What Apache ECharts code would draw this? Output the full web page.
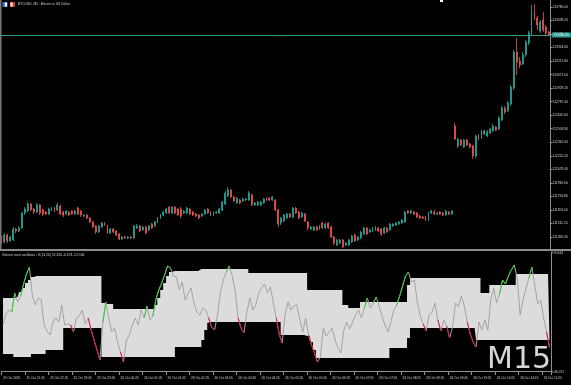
<!DOCTYPE html>
<html><head><meta charset="utf-8">
<script src="https://cdn.jsdelivr.net/npm/echarts@6/dist/echarts.min.js"></script>
<style>html,body{margin:0;padding:0;background:#000;}#c{width:571px;height:385px;}</style>
</head><body><div id="c"></div>
<script>
const timeLabels = ['25 Oct 2025','25 Oct 21:45','25 Oct 22:25','25 Oct 23:05','25 Oct 23:45','26 Oct 00:25','26 Oct 01:05','26 Oct 01:45','26 Oct 02:25','26 Oct 03:05','26 Oct 03:45','26 Oct 04:25','26 Oct 05:05','26 Oct 05:45','26 Oct 06:25','26 Oct 07:05','26 Oct 07:45','26 Oct 08:25','26 Oct 09:05','26 Oct 09:45','26 Oct 13:25','26 Oct 14:05','26 Oct 14:45','26 Oct 15:25'];
const priceTicks = [111369.40,111511.20,111653.00,111794.80,111936.60,112078.40,112220.20,112362.00,112503.80,112645.60,112787.40,112929.20,113071.00,113212.80,113354.60,113496.40,113638.20,113780.00];
const oscTicks = [-46.071, 74.664];
// [open, close, low, high]
const candles = [
[111359,111317,111296,111380],[111317,111390,111306,111411],[111390,111327,111306,111401],[111327,111369,111317,111380],[111338,111453,111327,111474],
[111453,111432,111411,111464],[111432,111464,111422,111485],[111464,111621,111453,111631],[111621,111663,111600,111684],[111642,111715,111631,111736],
[111715,111652,111642,111726],[111663,111631,111610,111673],[111631,111705,111621,111726],[111705,111621,111600,111715],[111652,111610,111589,111663],
[111631,111610,111600,111642],[111610,111663,111600,111673],[111652,111673,111642,111684],[111673,111642,111631,111684],[111652,111705,111642,111726],
[111694,111610,111600,111705],[111631,111600,111579,111642],[111610,111642,111600,111652],[111631,111600,111589,111642],[111642,111610,111600,111652],
[111610,111642,111600,111652],[111673,111610,111600,111684],[111642,111600,111579,111652],[111589,111600,111579,111610],[111600,111568,111558,111610],
[111568,111527,111516,111579],[111527,111474,111464,111537],[111485,111422,111401,111495],[111422,111485,111411,111495],[111474,111516,111464,111527],
[111516,111495,111485,111527],[111485,111411,111401,111495],[111411,111453,111401,111464],[111453,111422,111411,111464],[111432,111390,111380,111443],
[111401,111348,111338,111411],[111348,111369,111338,111380],[111369,111359,111348,111380],[111359,111369,111348,111380],[111369,111359,111348,111380],
[111359,111485,111348,111495],[111464,111485,111453,111506],[111485,111432,111422,111495],[111443,111474,111432,111485],[111474,111411,111401,111485],
[111443,111485,111432,111495],[111506,111464,111453,111516],[111485,111527,111474,111537],[111527,111568,111516,111579],[111568,111600,111558,111610],
[111600,111631,111589,111642],[111621,111663,111610,111673],[111684,111621,111610,111694],[111621,111684,111610,111694],[111684,111621,111610,111694],
[111663,111600,111589,111673],[111663,111589,111568,111684],[111621,111642,111610,111652],[111621,111673,111610,111684],[111663,111610,111600,111673],
[111631,111600,111589,111642],[111610,111589,111579,111621],[111600,111568,111558,111610],[111589,111610,111579,111621],[111610,111652,111600,111663],
[111663,111621,111610,111673],[111600,111631,111589,111642],[111621,111600,111589,111631],[111621,111631,111610,111642],[111621,111663,111610,111673],
[111652,111736,111642,111747],[111715,111830,111705,111851],[111799,111862,111789,111893],[111862,111789,111778,111872],[111789,111747,111736,111799],
[111726,111778,111715,111789],[111757,111726,111715,111768],[111747,111768,111736,111778],[111757,111768,111747,111778],[111757,111830,111747,111851],
[111810,111705,111694,111820],[111705,111726,111694,111736],[111705,111736,111694,111747],[111705,111736,111694,111747],[111726,111768,111715,111778],
[111778,111757,111747,111789],[111778,111757,111747,111789],[111757,111789,111747,111799],[111757,111652,111642,111768],[111652,111506,111474,111663],
[111516,111568,111495,111579],[111537,111600,111527,111610],[111568,111610,111558,111621],[111610,111579,111568,111621],[111579,111673,111568,111684],
[111673,111621,111610,111684],[111631,111568,111558,111642],[111579,111621,111568,111631],[111610,111537,111527,111621],[111527,111464,111443,111537],
[111453,111474,111443,111485],[111443,111474,111432,111485],[111474,111443,111432,111485],[111453,111485,111443,111495],[111516,111464,111453,111527],
[111464,111506,111453,111516],[111516,111464,111453,111527],[111474,111369,111359,111485],[111369,111306,111285,111380],[111285,111338,111275,111348],
[111306,111338,111296,111348],[111338,111264,111254,111348],[111285,111306,111275,111317],[111285,111338,111275,111348],[111317,111380,111306,111390],
[111390,111327,111317,111401],[111338,111369,111327,111380],[111359,111422,111348,111432],[111401,111464,111390,111474],[111464,111401,111390,111474],
[111422,111443,111411,111453],[111432,111464,111422,111474],[111443,111474,111432,111485],[111464,111432,111422,111474],[111453,111401,111380,111464],
[111411,111464,111401,111474],[111464,111422,111411,111474],[111443,111506,111432,111516],[111485,111506,111474,111516],[111495,111516,111485,111527],
[111506,111527,111495,111537],[111516,111547,111506,111558],[111527,111631,111516,111642],[111642,111621,111610,111652],[111621,111642,111610,111652],
[111631,111610,111600,111642],[111621,111579,111568,111631],[111589,111568,111558,111600],[111579,111568,111558,111589],[111579,111547,111537,111589],
[111547,111621,111537,111631],[111621,111642,111610,111652],[111631,111610,111600,111652],[111610,111621,111600,111631],[111631,111610,111600,111642],
[111621,111600,111589,111631],[111600,111642,111589,111652],[111631,111610,111600,111642],[111610,111642,111600,111652],
[112532,112396,112386,112564],[112323,112396,112302,112407],[112386,112333,112323,112396],[112312,112386,112302,112396],[112386,112333,112323,112396],
[112344,112312,112302,112354],[112323,112218,112187,112333],[112218,112428,112197,112438],[112438,112396,112386,112449],[112407,112481,112396,112491],
[112449,112481,112438,112491],[112428,112470,112417,112491],[112459,112501,112449,112512],[112481,112532,112470,112553],[112522,112491,112481,112532],
[112501,112616,112491,112637],[112595,112721,112585,112742],[112721,112679,112658,112742],[112690,112774,112679,112795],[112763,112941,112742,112962],
[112931,113308,112910,113329],[113308,113203,113067,113455],[113214,113172,113140,113256],[113182,113277,113172,113308],[113277,113413,113256,113434],
[113402,113507,113381,113528],[113507,113717,113486,113801],[113717,113664,113643,113811],[113664,113591,113539,113685],[113528,113622,113507,113643],
[113643,113539,113518,113727],[113570,113507,113486,113591],[113518,113486,113476,113528]
];
const vzo = [
0.6,11.8,15.8,13.8,33.1,23.9,30.0,42.2,52.3,59.4,
30.0,20.9,28.0,26.0,0.6,-5.5,-9.6,3.6,7.7,3.6,
20.9,0.6,1.6,0.6,-6.5,7.7,9.7,15.8,1.6,7.7,
-4.5,-14.6,-24.8,-34.9,3.6,23.9,7.7,-6.5,-2.5,-16.7,
-26.8,-37.0,-14.6,-9.6,0.6,7.7,0.6,15.8,7.7,19.9,
5.7,9.7,26.0,36.1,43.2,51.3,60.5,58.4,50.3,49.3,
36.1,44.2,26.0,33.1,38.1,22.9,13.8,10.7,17.8,15.8,
7.7,-1.4,-4.5,10.7,34.1,46.3,54.4,60.5,50.3,36.1,
7.7,-2.5,-7.5,13.8,28.0,15.8,20.9,33.1,38.1,42.2,
33.1,39.2,22.9,7.7,-8.5,-17.7,10.7,23.9,15.8,19.9,
20.9,5.7,-6.5,7.7,-9.6,-19.7,-27.8,-37.0,-31.9,-2.5,
-10.6,-6.5,-2.5,-14.6,-22.7,-27.8,-4.5,3.6,-3.5,3.6,
10.7,15.8,7.7,17.8,28.0,17.8,22.9,29.0,19.9,9.7,
0.6,-6.5,3.6,15.8,20.9,30.0,40.2,50.3,54.4,44.2,
46.3,23.9,9.7,1.6,-5.5,10.7,13.8,22.9,5.7,-5.5,
5.7,-0.4,-12.6,-1.4,22.9,18.9,30.0,19.9,3.6,-8.5,
-16.7,-21.7,3.6,-4.5,5.7,-4.5,26.0,38.1,22.9,32.1,
46.3,42.2,50.3,56.4,61.5,48.3,10.7,26.0,38.1,48.3,
59.4,40.2,21.9,26.0,7.7,-6.5,-22.1
];
const upperLevel = [
28.0,28.0,28.0,28.0,28.0,29.0,34.1,38.1,43.2,46.3,
49.3,50.3,50.3,50.3,50.3,50.3,50.3,50.3,50.3,50.3,
50.3,50.3,50.3,50.3,50.3,50.3,50.3,50.3,50.3,50.3,
50.3,50.3,50.3,50.3,22.9,21.9,21.9,21.9,16.8,16.8,
16.8,16.8,16.8,16.8,16.8,16.8,16.8,16.8,16.8,16.8,
16.8,16.8,20.9,28.0,36.1,43.2,50.3,54.4,55.4,55.4,
55.4,55.4,55.4,55.4,55.4,55.4,55.4,57.4,57.4,57.4,
57.4,57.4,57.4,57.4,57.4,57.4,57.4,57.4,57.4,57.4,
57.4,57.4,57.4,57.4,53.4,53.4,53.4,53.4,53.4,53.4,
53.4,53.4,53.4,53.4,53.4,53.4,53.4,53.4,53.4,53.4,
53.4,53.4,53.4,53.4,36.1,36.1,36.1,36.1,36.1,36.1,
36.1,36.1,36.1,36.1,36.1,36.1,20.9,20.9,17.8,17.8,
17.8,17.8,23.9,23.9,23.9,23.9,23.9,23.9,23.9,23.9,
23.9,23.9,23.9,23.9,23.9,23.9,23.9,23.9,41.2,48.3,
48.3,48.3,48.3,48.3,48.3,48.3,48.3,48.3,48.3,48.3,
48.3,48.3,48.3,48.3,48.3,48.3,48.3,48.3,48.3,48.3,
48.3,48.3,48.3,33.1,33.1,33.1,41.2,41.2,41.2,41.2,
41.2,41.2,41.2,41.2,41.2,52.3,52.3,52.3,52.3,52.3,
52.3,52.3,52.3,52.3,52.3,52.3,52.3
];
const lowerLevel = [
-28.8,-28.8,-28.8,-28.8,-31.9,-31.9,-31.9,-31.9,-31.9,-31.9,
-28.8,-28.8,-28.8,-28.8,-28.8,-24.8,-24.8,-24.8,-24.8,-24.8,
-24.8,-2.5,-2.5,-2.5,-2.5,-2.5,-2.5,-2.5,-2.5,-2.5,
-2.5,-2.5,-2.5,-2.5,-31.9,-31.9,-31.9,-31.9,-31.9,-31.9,
-31.9,-31.9,-31.9,-31.9,-31.9,-31.9,-31.9,-31.9,-31.9,-31.9,
-31.9,-31.9,-31.9,-31.9,-31.9,-31.9,-31.9,-31.9,-31.9,-21.7,
-21.7,-21.7,-21.7,-21.7,-21.7,-21.7,-21.7,-21.7,-14.6,-4.5,
2.6,3.6,3.6,3.6,3.6,3.6,3.6,3.6,3.6,3.6,
3.6,3.6,3.6,3.6,3.6,3.6,3.6,3.6,3.6,3.6,
3.6,3.6,3.6,3.6,3.6,-9.6,-9.6,-9.6,-9.6,-9.6,
-9.6,-9.6,-9.6,-9.6,-10.6,-16.7,-24.8,-32.9,-32.9,-32.9,
-32.9,-32.9,-32.9,-32.9,-32.9,-32.9,-32.9,-32.9,-32.9,-32.9,
-32.9,-32.9,-32.9,-32.9,-32.9,-32.9,-32.9,-32.9,-32.9,-32.9,
-32.9,-32.9,-22.7,-22.7,-22.7,-22.7,-22.7,-22.7,-12.6,-2.5,
-2.5,-2.5,-2.5,-2.5,-2.5,-2.5,-2.5,-2.5,-2.5,-2.5,
-2.5,-2.5,-2.5,-2.5,-2.5,-2.5,-2.5,-2.5,-2.5,-2.5,
-2.5,-14.6,-14.6,-14.6,-14.6,-14.6,-14.6,-14.6,-14.6,-14.6,
-14.6,-14.6,-14.6,-14.6,-14.6,-14.6,-14.6,-14.6,-14.6,-14.6,
-14.6,-14.6,-14.6,-14.6,-14.6,-14.6,-14.6
];

const categories = candles.map((_, i) => String(i));
const lastClose = candles[candles.length - 1][1];
const above = vzo.map((v, i) => v > upperLevel[i]);
const below = vzo.map((v, i) => v < lowerLevel[i]);
const greenSeg = vzo.map((v, i) => (above[i] || above[i + 1]) ? v : null);
const redSeg = vzo.map((v, i) => (below[i] || below[i + 1]) ? v : null);
const bandWidth = upperLevel.map((u, i) => u - lowerLevel[i]);

const FONT = 'Liberation Sans, Arial, sans-serif';
const TXT = '#d0d0d0';
const AX = '#8f8f8f';

const chart = echarts.init(document.getElementById('c'), null, {renderer: 'canvas', devicePixelRatio: 1});
chart.setOption({
  animation: false,
  backgroundColor: '#000',
  grid: [
    {left: 0, right: 20, top: 0, height: 249},
    {left: 0, right: 20, top: 252, height: 119}
  ],
  xAxis: [
    {gridIndex: 0, type: 'category', data: categories, boundaryGap: true, show: false},
    {gridIndex: 1, type: 'category', data: categories, boundaryGap: true,
      axisLine: {show: true, onZero: false, lineStyle: {color: AX, width: 1}},
      axisTick: {show: true, interval: 7, length: 4, lineStyle: {color: AX}},
      axisLabel: {interval: 7, align: 'left', margin: 6, fontSize: 3.2, fontFamily: FONT, color: TXT,
        formatter: (v, i) => timeLabels[Math.round(i / 8)] || ''},
      splitLine: {show: false}}
  ],
  yAxis: [
    {gridIndex: 0, type: 'value', position: 'right', min: 111243.5, max: 113853,
      splitLine: {show: false},
      axisLine: {show: true, lineStyle: {color: AX}},
      axisTick: {show: true, customValues: priceTicks, length: 2, lineStyle: {color: AX}},
      axisLabel: {customValues: priceTicks, formatter: v => Number(v).toFixed(2), fontSize: 3.3, fontFamily: FONT, color: TXT, margin: 2}},
    {gridIndex: 1, type: 'value', position: 'right', min: -46.071, max: 74.664,
      splitLine: {show: false},
      axisLine: {show: true, lineStyle: {color: AX}},
      axisTick: {show: true, customValues: oscTicks, length: 2, lineStyle: {color: AX}},
      axisLabel: {customValues: oscTicks, formatter: v => Number(v).toFixed(3), fontSize: 3.3, fontFamily: FONT, color: TXT, margin: 2, verticalAlign: 'top'}}
  ],
  series: [
    {type: 'candlestick', xAxisIndex: 0, yAxisIndex: 0, data: candles, barWidth: 1.4,
      itemStyle: {color: '#26a69a', color0: '#ef5350', borderColor: '#26a69a', borderColor0: '#ef5350', borderWidth: 0.8},
      markLine: {silent: true, symbol: ['none', 'none'], animation: false,
        data: [{yAxis: lastClose}],
        lineStyle: {color: '#2f9c8c', width: 1, type: 'solid', opacity: 1},
        label: {position: 'end', distance: 1, formatter: p => Number(p.value).toFixed(2), backgroundColor: '#2a9d8f', color: '#f0f0f0', fontSize: 3.3, fontFamily: FONT, padding: [1, 2]}}},
    {type: 'line', xAxisIndex: 1, yAxisIndex: 1, data: lowerLevel, stack: 'band', stackStrategy: 'all', step: 'middle',
      symbol: 'none', lineStyle: {width: 0, opacity: 0}, silent: true, z: 1},
    {type: 'line', xAxisIndex: 1, yAxisIndex: 1, data: bandWidth, stack: 'band', stackStrategy: 'all', step: 'middle',
      symbol: 'none', lineStyle: {width: 0, opacity: 0}, areaStyle: {color: '#dcdcdc', opacity: 1}, silent: true, z: 1},
    {type: 'line', xAxisIndex: 1, yAxisIndex: 1, data: vzo, symbol: 'none', lineStyle: {color: '#a4a4a4', width: 1}, z: 3, silent: true},
    {type: 'line', xAxisIndex: 1, yAxisIndex: 1, data: greenSeg, symbol: 'none', connectNulls: false, lineStyle: {color: '#32cd32', width: 1}, z: 4, silent: true},
    {type: 'line', xAxisIndex: 1, yAxisIndex: 1, data: redSeg, symbol: 'none', connectNulls: false, lineStyle: {color: '#dc143c', width: 1}, z: 4, silent: true}
  ],
  graphic: [
    {type: 'rect', shape: {x: 0, y: 0, width: 1.5, height: 249}, style: {fill: '#777'}, z: 10},
    {type: 'rect', shape: {x: 0, y: 249, width: 571, height: 2}, style: {fill: '#8a8a8a'}, z: 10},
    {type: 'rect', shape: {x: 2.5, y: 2, width: 5, height: 5}, style: {fill: '#3d6fd8'}, z: 10},
    {type: 'rect', shape: {x: 5, y: 2.5, width: 2, height: 4}, style: {fill: '#ffffff'}, z: 11},
    {type: 'rect', shape: {x: 10, y: 2, width: 5, height: 5}, style: {fill: '#d8383a'}, z: 10},
    {type: 'rect', shape: {x: 10.5, y: 2.5, width: 2, height: 4}, style: {fill: '#ffffff'}, z: 11},
    {type: 'rect', shape: {x: 440, y: 0, width: 3, height: 2}, style: {fill: '#ffffff'}, z: 10},
    {type: 'text', x: 18, y: 4.5, style: {text: 'BTCUSD, M5 : Bitcoin vs US Dollar', fill: TXT, font: '3.3px ' + FONT, verticalAlign: 'middle'}, z: 10},
    {type: 'text', x: 2, y: 255.5, style: {text: 'Volume zone oscillator - ff (14,20) 52.320 -6.474 -22.106', fill: TXT, font: '3.3px ' + FONT, verticalAlign: 'middle'}, z: 10},
    {type: 'text', x: 487, y: 360, style: {text: 'M15', fill: '#d6d6d6', font: '30px DejaVu Sans, sans-serif', verticalAlign: 'middle'}, z: 10}
  ]
});
</script>
</body></html>
